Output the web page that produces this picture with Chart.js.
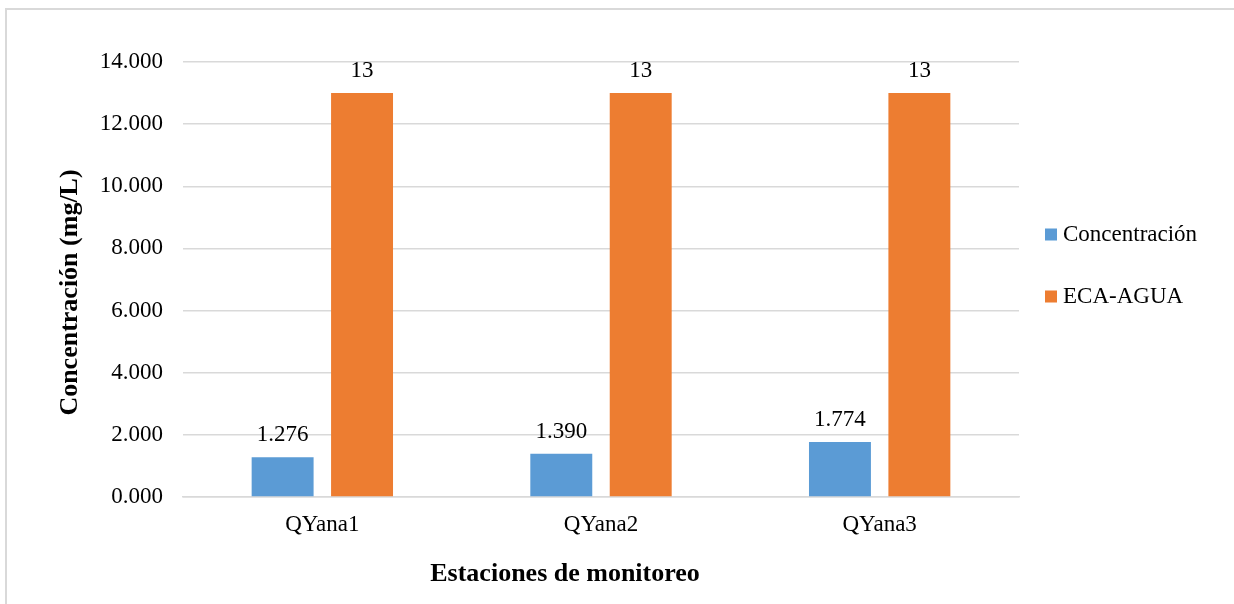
<!DOCTYPE html>
<html>
<head>
<meta charset="utf-8">
<script src="https://cdn.jsdelivr.net/npm/chart.js@4/dist/chart.umd.min.js"></script>
<style>
  html, body { margin: 0; padding: 0; background: #fff; overflow: hidden; }
  #wrap { position: relative; width: 1234px; height: 604px; overflow: hidden; }
  #frame { position: absolute; left: 5px; top: 8px; width: 1260px; height: 620px;
           border-left: 2px solid #d9d9d9; border-top: 2px solid #d9d9d9; box-sizing: border-box; }
  canvas { position: absolute; left: 0; top: 0; }
</style>
</head>
<body>
<div id="wrap">
  <div id="frame"></div>
  <canvas id="c" width="1234" height="604"></canvas>
</div>
<script>
// Monitoring stations and measured values (mg/L)
const estaciones = ['QYana1', 'QYana2', 'QYana3'];
const concentracion = [1.276, 1.390, 1.774];
const ecaAgua = [13, 13, 13];
const seriesNames = ['Concentración', 'ECA-AGUA'];
const seriesColors = ['#5B9BD5', '#ED7D31'];
const yTitle = 'Concentración (mg/L)';
const xTitle = 'Estaciones de monitoreo';

const FONT = "'Liberation Serif', 'Times New Roman', serif";

// Value labels above each bar
const valueLabels = {
  id: 'valueLabels',
  afterDatasetsDraw(chart) {
    const ctx = chart.ctx;
    ctx.save();
    ctx.font = '23px ' + FONT;
    ctx.fillStyle = '#000';
    ctx.textAlign = 'center';
    ctx.textBaseline = 'alphabetic';
    chart.data.datasets.forEach((ds, di) => {
      const meta = chart.getDatasetMeta(di);
      meta.data.forEach((bar, i) => {
        const v = ds.data[i];
        const txt = di === 0 ? v.toFixed(3) : String(v);
        ctx.fillText(txt, bar.x, bar.y - 16);
      });
    });
    ctx.restore();
  }
};

// Axis titles and the legend on the right
const decorations = {
  id: 'decorations',
  afterDraw(chart) {
    const ctx = chart.ctx;
    const a = chart.chartArea;
    ctx.save();
    ctx.fillStyle = '#000';
    ctx.font = 'bold 26px ' + FONT;
    ctx.textAlign = 'center';
    ctx.textBaseline = 'alphabetic';
    ctx.fillText(xTitle, a.left + (a.right - a.left) * 0.457, a.bottom + 84);
    ctx.save();
    ctx.translate(77, (a.top + a.bottom) / 2 + 13);
    ctx.rotate(-Math.PI / 2);
    ctx.fillText(yTitle, 0, 0);
    ctx.restore();

    ctx.font = '23px ' + FONT;
    ctx.textAlign = 'left';
    ctx.textBaseline = 'middle';
    const cy = (a.top + a.bottom) / 2;
    seriesNames.forEach((name, i) => {
      const y = cy - 45 + i * 62;
      ctx.fillStyle = seriesColors[i];
      ctx.fillRect(a.right + 26, y - 6, 12, 12);
      ctx.fillStyle = '#000';
      ctx.fillText(name, a.right + 44, y);
    });
    ctx.restore();
  }
};

new Chart(document.getElementById('c'), {
  type: 'bar',
  data: {
    labels: estaciones,
    datasets: [
      { label: seriesNames[0], data: concentracion, backgroundColor: seriesColors[0] },
      { label: seriesNames[1], data: ecaAgua, backgroundColor: seriesColors[1] }
    ]
  },
  options: {
    responsive: false,
    animation: false,
    devicePixelRatio: 1,
    categoryPercentage: 0.57,
    barPercentage: 0.78,
    layout: { padding: { left: 0, right: 215, top: 62, bottom: 0 } },
    plugins: { legend: { display: false }, tooltip: { enabled: false } },
    scales: {
      x: {
        grid: { display: false, drawTicks: false },
        border: { display: true, color: '#d9d9d9', width: 1.5 },
        ticks: { color: '#000', font: { family: FONT, size: 23 }, padding: 14 },
        afterFit(scale) { scale.height = 107; }
      },
      y: {
        min: 0, max: 14,
        grid: { color: '#d9d9d9', lineWidth: 1.5, drawTicks: false },
        border: { display: false },
        ticks: {
          stepSize: 2, color: '#000', padding: 20,
          font: { family: FONT, size: 23 },
          callback: v => Number(v).toFixed(3)
        },
        afterFit(scale) { scale.width = 183; }
      }
    }
  },
  plugins: [valueLabels, decorations]
});
</script>
</body>
</html>
